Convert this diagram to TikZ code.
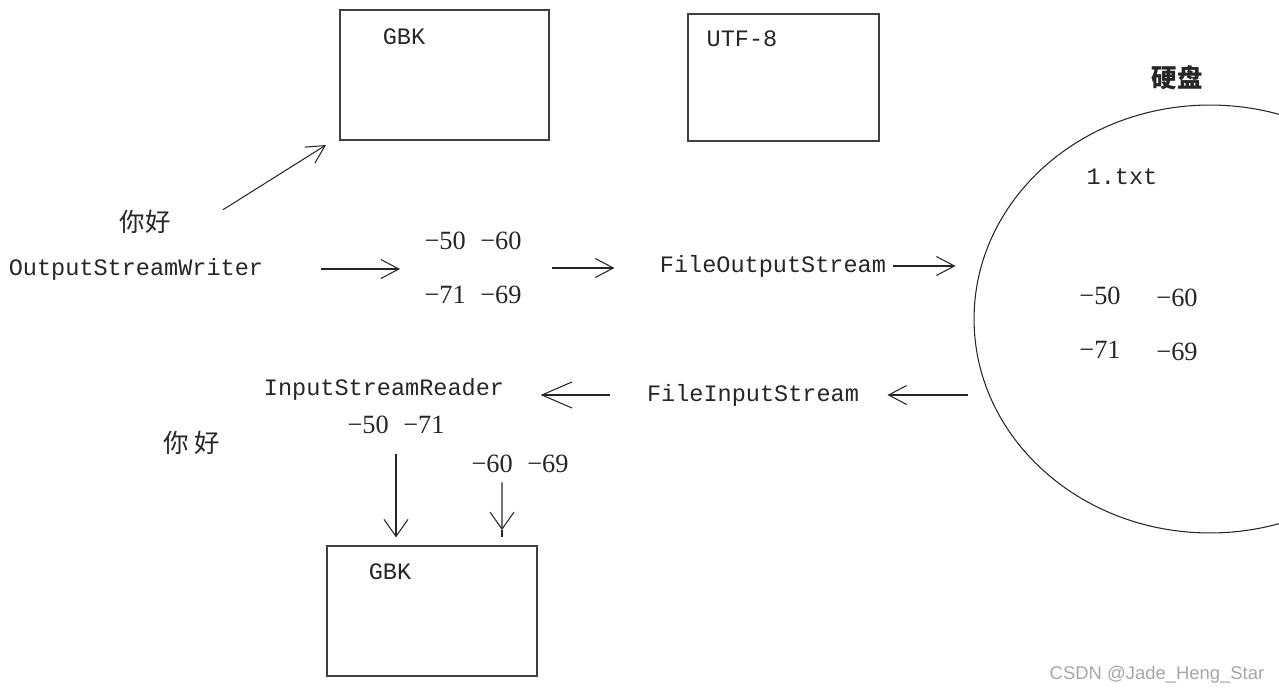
\documentclass[tikz,border=0pt]{standalone}
\usepackage{fontspec}
\setmainfont{Liberation Serif}
\setmonofont{Liberation Mono}
\newfontfamily\cjk{Noto Sans CJK SC}
\newfontfamily\wmfont{Liberation Sans}
\newcommand\numfont{\rmfamily\fontsize{15}{17}\selectfont\spaceskip=0.55em\relax}
\usetikzlibrary{positioning, shapes.geometric, arrows.meta, calc}

\begin{document}
\begin{tikzpicture}[
  x=0.02cm, y=-0.02cm,
  line width=0.6pt, draw=black!85,
  every node/.style={inner sep=0pt, text=black!85},
  box/.style={draw=black!75, line width=0.8pt},
  code/.style={font=\ttfamily\fontsize{13.4}{16}\selectfont},
  num/.style={font=\numfont},
  han/.style={font=\cjk\fontsize{14.5}{17}\selectfont},
  arr/.style={-{Straight Barb[length=3.6mm, width=3.8mm]}},
  bigarr/.style={-{Straight Barb[length=6mm, width=5.2mm]}},
  downarr/.style={-{Straight Barb[length=3.4mm, width=4.8mm]}}
]
\useasboundingbox (0,0) rectangle (1279,694);
\clip (0,0) rectangle (1279,694);

% ---- CHARSET BOXES ----
\node[box, minimum width=4.18cm, minimum height=2.6cm] (gbkTop) at (444.5,75) {};
\node[code] (gbkTopTxt) at (404,37) {GBK};
\node[box, minimum width=3.82cm, minimum height=2.54cm] (utf) at (783.5,77.5) {};
\node[code] (utfTxt) at (742,39) {UTF-8};

% ---- WRITING SIDE ----
\node[han] (nihaoA) at (145,222) {你好};
\node[code] (osw) at (136,269) {OutputStreamWriter};
\node[num, align=left] (bytesOut) at (473,268) {−50 −60\\[13.6pt]−71 −69};
\node[code] (fos) at (773,266) {FileOutputStream};

\coordinate (toGbk) at (326,145);
\draw[arr] ([xshift=1.04cm]nihaoA.north east) -- (toGbk);
\draw[arr, shorten <=1.14cm, shorten >=0.48cm] (osw.east) -- (osw.east -| bytesOut.west);
\draw[arr, shorten <=0.6cm, shorten >=0.9cm] (bytesOut.east) -- (bytesOut.east -| fos.west);

% ---- HARD DISK ----
\node[draw, ellipse, minimum width=9.44cm, minimum height=8.56cm] (disk) at (1210,319) {};
\node[han, font=\cjk\bfseries\fontsize{14.5}{17}\selectfont] (diskTitle) at (1177,78) {硬盘};
\node[code] (txt) at (1122,177) {1.txt};
\node[num] (d50) at (1100,296) {−50};
\node[num] (d60) at (1177,298) {−60};
\node[num] (d71) at (1100,350) {−71};
\node[num] (d69) at (1177,352) {−69};

\draw[arr, shorten <=0.12cm, shorten >=0.36cm] (fos.east) -- (fos.east -| disk.west);

% ---- READING SIDE ----
\node[code] (fis) at (753,395) {FileInputStream};
\node[code] (isr) at (384,389) {InputStreamReader};
\node[num] (bytesA) at (396,425) {−50 −71};
\node[num] (bytesB) at (520,464) {−60 −69};
\node[han] (nihaoB) at (192,443) {你 好};
\node[box, minimum width=4.2cm, minimum height=2.6cm] (gbkBot) at (432,611) {};
\node[code] (gbkBotTxt) at (390,572) {GBK};

\draw[arr, shorten <=0.12cm, shorten >=0.56cm] (fis.east -| disk.west) -- (fis.east);
\draw[bigarr, shorten <=0.74cm, shorten >=0.72cm] (fis.west) -- (fis.west -| isr.east);
\draw[downarr, shorten <=0.4cm, shorten >=0.16cm] (bytesA.south) -- (bytesA.south |- gbkBot.north);

\coordinate (tipB) at (502,530);
\draw[downarr, shorten <=0.18cm] ([xshift=-0.36cm]bytesB.south) -- (tipB);
\draw[shorten >=0.16cm] (tipB) -- (tipB |- gbkBot.north);

% ---- WATERMARK ----
\node[font=\wmfont\fontsize{10.5}{12}\selectfont, text=gray!70] (mark) at (1157,675) {CSDN @Jade\_Heng\_Star};

\end{tikzpicture}
\end{document}
